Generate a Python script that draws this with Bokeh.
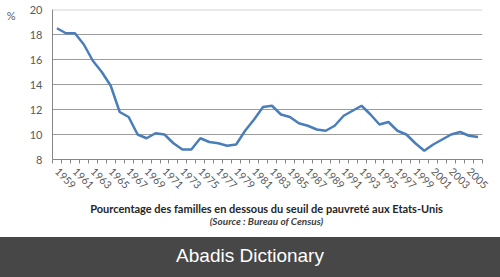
import math
from bokeh.plotting import figure
from bokeh.models import FixedTicker, Label, Span, Range1d, LinearAxis, Div
from bokeh.layouts import column
from bokeh.embed import file_html
from bokeh.resources import INLINE

years = list(range(1959, 2007))
poverty = [18.5, 18.1, 18.1, 17.2, 15.9, 15.0, 13.9, 11.8, 11.4, 10.0,
           9.7, 10.1, 10.0, 9.3, 8.8, 8.8, 9.7, 9.4, 9.3, 9.1,
           9.2, 10.3, 11.2, 12.2, 12.3, 11.6, 11.4, 10.9, 10.7, 10.4,
           10.3, 10.7, 11.5, 11.9, 12.3, 11.6, 10.8, 11.0, 10.3, 10.0,
           9.3, 8.7, 9.2, 9.6, 10.0, 10.2, 9.9, 9.8]
label_years = list(range(1959, 2006, 2))
y_ticks = [8, 10, 12, 14, 16, 18, 20]
unit_text = "%"
title_text = "Pourcentage des familles en dessous du seuil de pauvreté aux Etats-Unis"
source_text = "(Source : Bureau of Census)"
banner_text = "Abadis Dictionary"

FONT = "Lato"
GRAY = "#595959"
ML, MR = 52, 18
BANNER = "#474747"

p = figure(width=500, height=200, x_range=Range1d(years[0] - 0.5, years[-1] + 0.5),
           y_range=Range1d(8, 20), output_backend="svg", toolbar_location=None,
           min_border_left=ML, min_border_right=MR, min_border_top=9, min_border_bottom=41,
           title=None)
p.outline_line_color = None

p.line(years, poverty, line_color="#4a7ebb", line_width=2.5)

xa = p.xaxis[0]
xa.ticker = FixedTicker(ticks=label_years, minor_ticks=[y - 0.5 for y in years] + [years[-1] + 0.5])
xa.major_tick_line_color = None
xa.minor_tick_out = 4
xa.minor_tick_in = 0
xa.minor_tick_line_color = "#868686"
xa.axis_line_color = "#868686"
xa.major_label_orientation = -math.pi / 4
xa.major_label_standoff = 4
xa.major_label_text_font = FONT
xa.major_label_text_font_size = "10.5px"
xa.major_label_text_color = GRAY

ya = p.yaxis[0]
ya.ticker = FixedTicker(ticks=y_ticks)
ya.major_tick_out = 0
ya.major_tick_in = 0
ya.minor_tick_line_color = None
ya.axis_line_color = "#868686"
ya.major_label_standoff = 10
ya.major_label_text_font = FONT
ya.major_label_text_font_size = "11px"
ya.major_label_text_color = GRAY

# "%" unit shown through a second, line-less left axis
ua = LinearAxis(ticker=FixedTicker(ticks=[19.52]), major_label_overrides={19.52: unit_text},
                axis_line_color=None, major_tick_line_color=None, minor_tick_line_color=None,
                major_label_standoff=5, major_label_text_font=FONT,
                major_label_text_font_size="11px", major_label_text_color=GRAY)
p.add_layout(ua, "left")

p.xgrid.visible = False
p.ygrid.ticker = FixedTicker(ticks=y_ticks[1:-1])
p.ygrid.grid_line_color = "#9c9c9c"
p.add_layout(Span(location=20, dimension="width", line_color="#d4d4d4", line_width=2))

# caption strip
t = figure(width=500, height=37, x_range=Range1d(0, 500 - ML - MR), y_range=Range1d(0, 37),
           x_axis_type=None, y_axis_type=None, toolbar_location=None, output_backend="svg",
           min_border_left=ML, min_border_right=MR, min_border_top=0, min_border_bottom=0,
           title=None)
t.outline_line_color = None
t.grid.visible = False
t.add_layout(Label(x=266 - ML, y=29, text=title_text, text_font=FONT, text_font_size="11px",
                   text_font_style="bold", text_color="#262626", text_align="center",
                   text_baseline="middle"))
t.add_layout(Label(x=266 - ML, y=17, text=source_text, text_font=FONT, text_font_size="10px",
                   text_font_style="bold italic", text_color="#404040", text_align="center",
                   text_baseline="middle"))

# banner
b = Div(text=banner_text, width=500, height=40, margin=0,
        styles={"background-color": BANNER, "color": "white",
                "font-family": "'Liberation Sans', Arial, sans-serif", "font-size": "19px",
                "text-align": "center", "line-height": "37px", "overflow": "hidden"})

layout = column(p, t, b, spacing=0)
open("out.html", "w").write(file_html(layout, INLINE))
